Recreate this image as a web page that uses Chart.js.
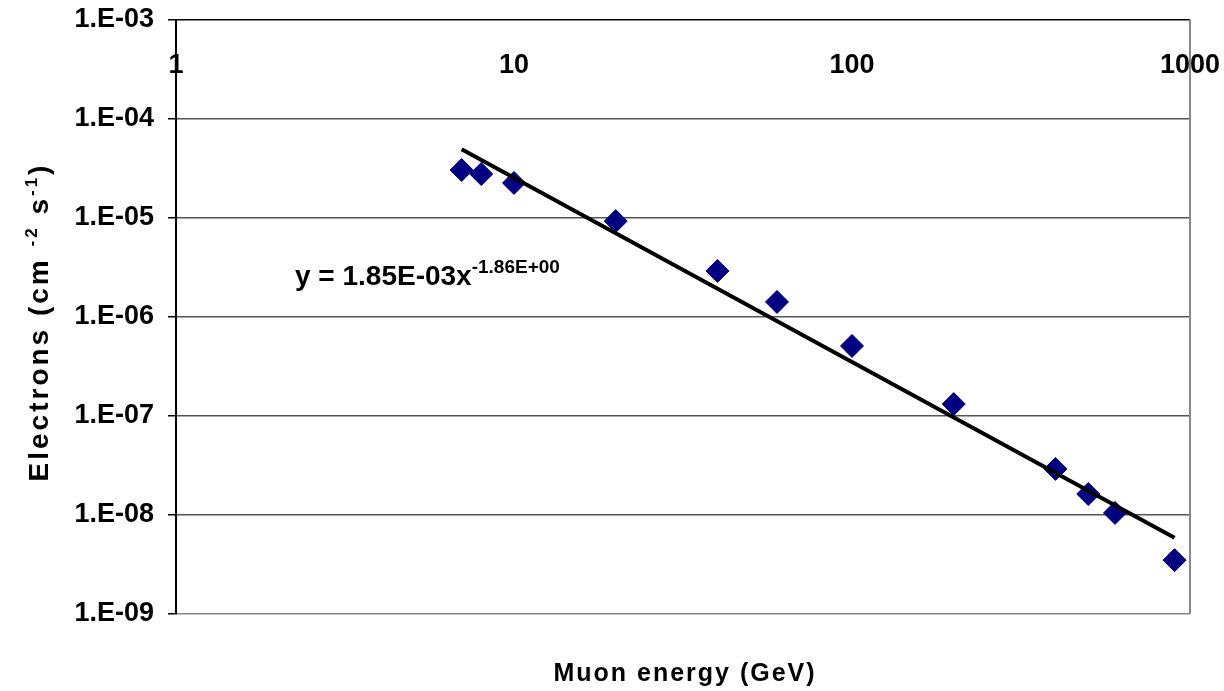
<!DOCTYPE html>
<html>
<head>
<meta charset="utf-8">
<script src="https://cdn.jsdelivr.net/npm/chart.js@4.4.0/dist/chart.umd.min.js"></script>
<style>
  html, body { margin: 0; padding: 0; background: #fff; }
</style>
</head>
<body>
<canvas id="scatterChart" width="1224" height="691"></canvas>
<script>
const energies = [7, 8, 10, 20, 40, 60, 100, 200, 400, 500, 600, 900];
const electrons = [3.05e-5, 2.78e-5, 2.26e-5, 9.3e-6, 2.92e-6, 1.42e-6, 5.1e-7, 1.32e-7, 2.92e-8, 1.63e-8, 1.05e-8, 3.5e-9];
// power-law trendline end points
const fitEnergies = [7, 900];
const fitElectrons = [4.96e-5, 5.9e-9];
const xTicks = [1, 10, 100, 1000];
const xTickLabels = ['1', '10', '100', '1000'];
const yTicks = [1e-9, 1e-8, 1e-7, 1e-6, 1e-5, 1e-4, 1e-3];
const yTickLabels = ['1.E-09', '1.E-08', '1.E-07', '1.E-06', '1.E-05', '1.E-04', '1.E-03'];
const equation = 'y = 1.85E-03x';
const equationExp = '-1.86E+00';

const family = "'Liberation Sans', Arial, sans-serif";

// draws a row of text pieces, some raised (superscripts)
function drawRuns(ctx, runs, x, y, center) {
   let total = 0;
   runs.forEach(r => {
      ctx.font = 'bold ' + r.size + 'px ' + family;
      ctx.letterSpacing = (r.spacing || 0) + 'px';
      r.w = ctx.measureText(r.text).width;
      total += r.w;
   });
   let cx = center ? x - total / 2 : x;
   runs.forEach(r => {
      ctx.font = 'bold ' + r.size + 'px ' + family;
      ctx.letterSpacing = (r.spacing || 0) + 'px';
      ctx.fillText(r.text, cx, y - (r.rise || 0));
      cx += r.w;
   });
}

const extraText = {
   id: 'extraText',
   afterDraw(chart) {
      const ctx = chart.ctx;
      const area = chart.chartArea;
      const xs = chart.scales.x;
      ctx.save();
      ctx.strokeStyle = '#888';
      ctx.lineWidth = 2;
      ctx.beginPath();
      ctx.moveTo(area.right, area.top);
      ctx.lineTo(area.right, area.bottom);
      ctx.stroke();

      ctx.fillStyle = '#000';
      ctx.textBaseline = 'middle';
      ctx.font = 'bold 27px ' + family;
      ctx.textAlign = 'center';
      xTicks.forEach((v, i) => ctx.fillText(xTickLabels[i], xs.getPixelForValue(v), 66));

      ctx.textAlign = 'left';
      ctx.textBaseline = 'alphabetic';
      drawRuns(ctx, [
         { text: equation, size: 28 },
         { text: equationExp, size: 19, rise: 12 }
      ], 295, 285, false);

      drawRuns(ctx, [{ text: 'Muon energy (GeV)', size: 25, spacing: 2 }], 685, 681, true);

      ctx.save();
      ctx.translate(48, 322);
      ctx.rotate(-Math.PI / 2);
      drawRuns(ctx, [
         { text: 'Electrons (cm ', size: 28, spacing: 3 },
         { text: '-2', size: 17, spacing: 3, rise: 11 },
         { text: ' s', size: 28, spacing: 3 },
         { text: '-1', size: 17, spacing: 3, rise: 11 },
         { text: ')', size: 28, spacing: 3 }
      ], 0, 0, true);
      ctx.restore();
      ctx.restore();
   }
};

const scatterChart = document.getElementById('scatterChart');

new Chart(scatterChart, {
   type: 'scatter',
   data: {
      datasets: [{
         label: 'Trend',
         data: fitEnergies.map((x, i) => ({ x: x, y: fitElectrons[i] })),
         showLine: true,
         borderColor: '#000',
         borderWidth: 4,
         pointRadius: 0
      }, {
         label: 'Electrons',
         data: energies.map((x, i) => ({ x: x, y: electrons[i] })),
         pointStyle: 'rectRot',
         pointRadius: 11.5,
         backgroundColor: '#000080',
         borderColor: '#000080',
         borderWidth: 1
      }]
   },
   options: {
      responsive: false,
      animation: false,
      layout: { padding: { top: 20, right: 34, bottom: 77, left: 0 } },
      plugins: {
         legend: { display: false },
         tooltip: { enabled: false }
      },
      scales: {
         x: {
            type: 'logarithmic',
            min: 1,
            max: 1000,
            display: false
         },
         y: {
            type: 'logarithmic',
            min: 1e-9,
            max: 1e-3,
            afterBuildTicks: scale => { scale.ticks = yTicks.map(v => ({ value: v })); },
            afterFit: scale => {
               scale.width = 176;
               scale.paddingTop = 0;
               scale.paddingBottom = 0;
            },
            border: { color: '#000', width: 2 },
            grid: {
               color: c => c.tick && c.tick.value === 1e-3 ? '#000' : (c.tick && c.tick.value === 1e-9 ? '#888' : '#555'),
               tickColor: '#000',
               tickLength: 8,
               lineWidth: 1.5
            },
            ticks: {
               autoSkip: false,
               padding: 14,
               color: '#000',
               font: { family: family, size: 27, weight: 'bold' },
               callback: v => yTickLabels[yTicks.indexOf(v)]
            }
         }
      }
   },
   plugins: [extraText]
});
</script>
</body>
</html>
